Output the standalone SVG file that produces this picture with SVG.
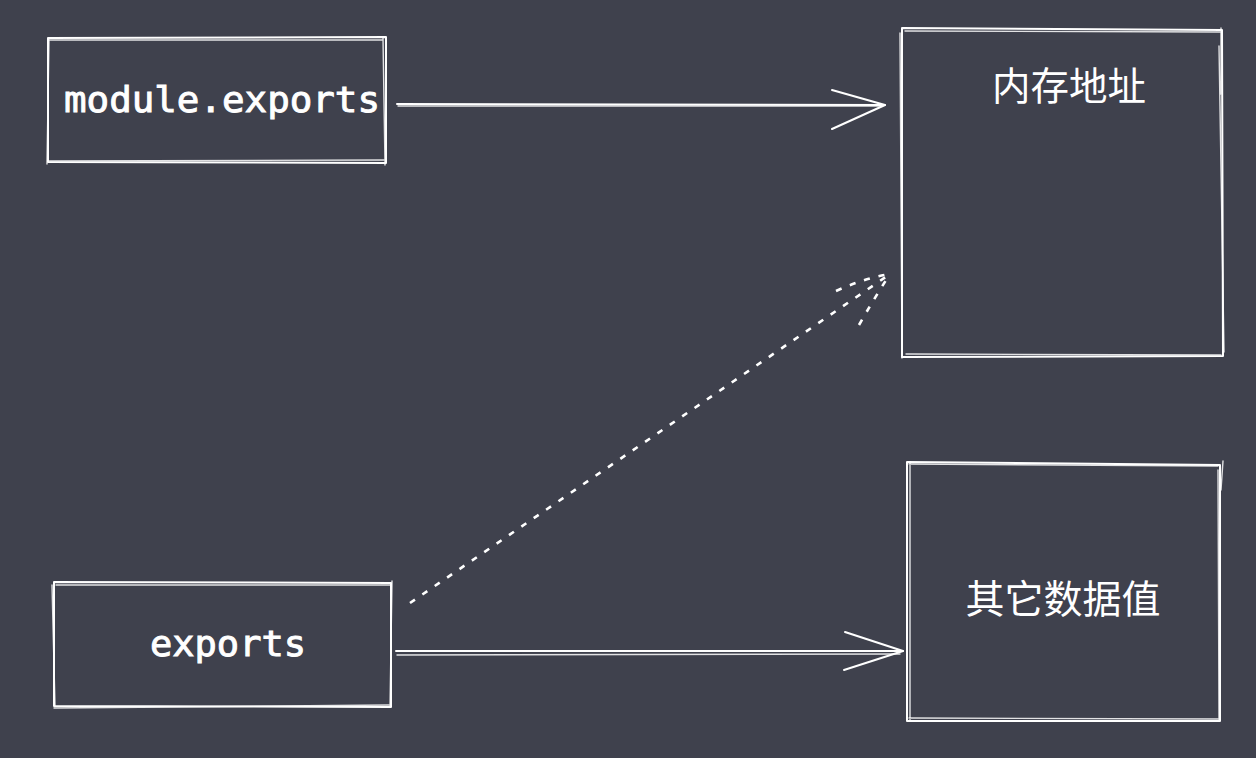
<svg xmlns="http://www.w3.org/2000/svg" width="1256" height="758" viewBox="0 0 1256 758">
<style>
.s{fill:none;stroke:#ffffff;stroke-width:2;stroke-linecap:round;stroke-linejoin:round}
.t{fill:none;stroke:#ffffff;stroke-width:1.4;stroke-linecap:round;opacity:0.85}
.d{fill:none;stroke:#ffffff;stroke-width:2.6;stroke-dasharray:6 9;stroke-linecap:butt}
.mono{font-family:"DejaVu Sans Mono","Liberation Mono",monospace;font-weight:normal;fill:#ffffff;stroke:#ffffff;stroke-width:0.9}
.cjk{font-family:"Noto Sans CJK SC","Noto Sans",sans-serif;fill:#ffffff}
</style>
<rect width="1256" height="758" fill="#3f414d"/>
<g id="node-module-exports">
<path class="s" d="M48 38 L386 37 L386 163 L48 162 Z"/>
<path class="t" d="M50 40 L383 40 M383 38 L385 165 M384 160 L47 161 M47 164 L49 38"/>
<text class="mono" x="64" y="112" font-size="35" textLength="316" lengthAdjust="spacingAndGlyphs">module.exports</text>
</g>
<g id="node-memory">
<path class="s" d="M902 28 L1222 30 L1223 356 L902 357 Z"/>
<path class="t" d="M905 31 L1220 32 M1221 28 L1221 94 M1219 46 L1224 352 M1221 355 L906 354 M900 33 L902 358"/>
<text class="cjk" x="1069" y="100" font-size="38.5" text-anchor="middle">内存地址</text>
</g>
<g id="node-exports">
<path class="s" d="M54 582 L391 583 L391 707 L54 706 Z"/>
<path class="t" d="M56 585 L390 585 M392 581 L390 707 M389 705 L54 708 M52 585 L55 706"/>
<text class="mono" x="228" y="656" font-size="35" text-anchor="middle" textLength="156" lengthAdjust="spacingAndGlyphs">exports</text>
</g>
<g id="node-other">
<path class="s" d="M907 462 L1220 465 L1220 721 L907 721 Z"/>
<path class="t" d="M909 464 L1218 466 M1223 461 L1221 490 M1218 470 L1219 720 M1220 719 L909 718 M910 463 L910 720"/>
<text class="cjk" x="1063" y="613" font-size="39" text-anchor="middle">其它数据值</text>
</g>
<g id="connectors">
<path class="s" d="M397 104 L885 105"/>
<path class="t" d="M398 106 L880 106"/>
<path class="s" d="M832 90 L885 105 L832 129"/>
<path class="s" d="M396 651 L903 651"/>
<path class="t" d="M397 655 L900 654"/>
<path class="s" d="M845 632 L903 651 L844 670"/>
<path class="d" d="M410 603 L890 274"/>
<path class="d" d="M836 291 Q865 278 890 274"/>
<path class="d" d="M859 325 Q875 297 890 274"/>
</g>
</svg>
